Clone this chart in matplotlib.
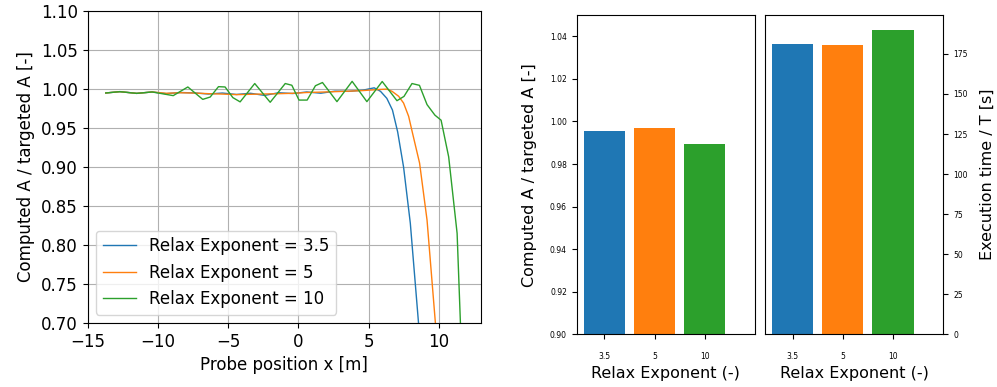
import matplotlib
matplotlib.use("Agg")
import matplotlib.pyplot as plt

# ---- data: left panel (probe profiles) ----
x_35 = [-13.7, -12.7, -11.5, -10.4, -9.4, -8.4, -7.4, -6.4, -5.4, -4.4, -3.4, -2.4, -1.4, -0.4,
        0.6, 1.6, 2.6, 3.6, 4.6, 5.4, 5.85, 6.3, 6.7, 7.07, 7.49, 7.97, 8.6]
y_35 = [0.9949, 0.9966, 0.9944, 0.9962, 0.9940, 0.9955, 0.9950, 0.9936, 0.9948, 0.9930, 0.9945,
        0.9918, 0.9952, 0.9942, 0.9962, 0.9946, 0.9972, 0.9970, 0.9985, 1.0015, 0.9970, 0.9880,
        0.9730, 0.9450, 0.9000, 0.8280, 0.6900]

x_5 = [-13.7, -12.7, -11.5, -10.4, -9.4, -8.4, -7.4, -6.4, -5.4, -4.4, -3.4, -2.4, -1.4, -0.4,
       0.6, 1.6, 2.6, 3.6, 4.6, 5.6, 6.31, 6.67, 7.14, 7.49, 7.85, 8.12, 8.63, 9.16, 9.8]
y_5 = [0.9949, 0.9966, 0.9944, 0.9962, 0.9945, 0.9952, 0.9948, 0.9940, 0.9935, 0.9928, 0.9932,
       0.9936, 0.9940, 0.9945, 0.9955, 0.9960, 0.9966, 0.9972, 0.9980, 0.9992, 0.9999, 0.9970,
       0.9907, 0.9820, 0.9650, 0.9440, 0.9050, 0.8320, 0.6900]

x_10 = [-13.7, -12.7, -11.5, -10.4, -8.9, -7.86, -6.8, -6.27, -5.68, -5.21, -4.66, -4.14, -3.1,
        -2.0, -0.93, -0.46, 0.05, 0.63, 1.22, 1.72, 2.75, 3.83, 4.88, 5.97, 7.02, 7.52, 8.09,
        8.62, 9.16, 9.72, 10.16, 10.7, 11.3, 11.7]
y_10 = [0.9949, 0.9966, 0.9944, 0.9962, 0.9915, 1.0026, 0.9867, 0.9897, 1.0030, 1.0026, 0.9890,
        0.9835, 1.0070, 0.9830, 1.0070, 1.0048, 0.9858, 0.9858, 1.0042, 1.0083, 0.9838, 1.0098,
        0.9838, 1.0096, 0.9850, 0.9905, 1.0070, 1.0047, 0.9800, 0.9665, 0.9600, 0.9130, 0.8150,
        0.6200]

series_labels = ["Relax Exponent = 3.5", "Relax Exponent = 5", "Relax Exponent = 10"]

# ---- data: bar panels ----
exponents = ["3.5", "5", "10"]
ratio_vals = [0.9956, 0.9971, 0.9895]
time_vals = [181.2, 180.6, 190.0]
colors = ["#1f77b4", "#ff7f0e", "#2ca02c"]

W, H = 997, 387
fig = plt.figure(figsize=(W / 100, H / 100), dpi=100)

def rect(l, r, t, b):
    return [l / W, (H - b) / H, (r - l) / W, (b - t) / H]

ax1 = fig.add_axes(rect(87.5, 481, 11, 323))
ax1.plot(x_35, y_35, color=colors[0], lw=1.0, label=series_labels[0])
ax1.plot(x_5, y_5, color=colors[1], lw=1.0, label=series_labels[1])
ax1.plot(x_10, y_10, color=colors[2], lw=1.0, label=series_labels[2])
ax1.set_xlim(-15, 13)
ax1.set_ylim(0.70, 1.10)
ax1.set_yticks([0.70, 0.75, 0.80, 0.85, 0.90, 0.95, 1.00, 1.05, 1.10])
ax1.set_xticks([-15, -10, -5, 0, 5, 10])
ax1.grid(True, color="#b0b0b0", lw=0.8)
ax1.tick_params(labelsize=12)
ax1.set_xlabel("Probe position x [m]", fontsize=12)
ax1.set_ylabel("Computed A / targeted A [-]", fontsize=12)
ax1.legend(loc="lower left", fontsize=12)

pos = list(range(len(exponents)))

ax2 = fig.add_axes(rect(576.7, 755, 15, 334.3))
ax2.bar(pos, ratio_vals, color=colors, width=0.82)
ax2.set_ylim(0.90, 1.05)
ax2.set_xlim(-0.55, 3.0)
ax2.set_xticks(pos)
ax2.set_xticklabels(exponents)
ax2.set_yticks([0.90, 0.92, 0.94, 0.96, 0.98, 1.00, 1.02, 1.04])
ax2.tick_params(labelsize=5.5)
ax2.tick_params(axis="x", pad=9)
ax2.set_xlabel("Relax Exponent (-)", fontsize=11.5)
ax2.set_ylabel("Computed A / targeted A [-]", fontsize=11.5, labelpad=9)

ax3 = fig.add_axes(rect(765, 943.3, 15, 334.3))
ax3.bar(pos, time_vals, color=colors, width=0.82)
ax3.set_ylim(0, 199.3)
ax3.set_xlim(-0.55, 3.0)
ax3.set_xticks(pos)
ax3.set_xticklabels(exponents)
ax3.set_yticks([0, 25, 50, 75, 100, 125, 150, 175])
ax3.yaxis.tick_right()
ax3.yaxis.set_label_position("right")
ax3.tick_params(labelsize=5.5)
ax3.tick_params(axis="x", pad=9)
ax3.set_xlabel("Relax Exponent (-)", fontsize=11.5)
ax3.set_ylabel("Execution time / T [s]", fontsize=11.5, labelpad=9)

fig.savefig("out.png", dpi=100)
